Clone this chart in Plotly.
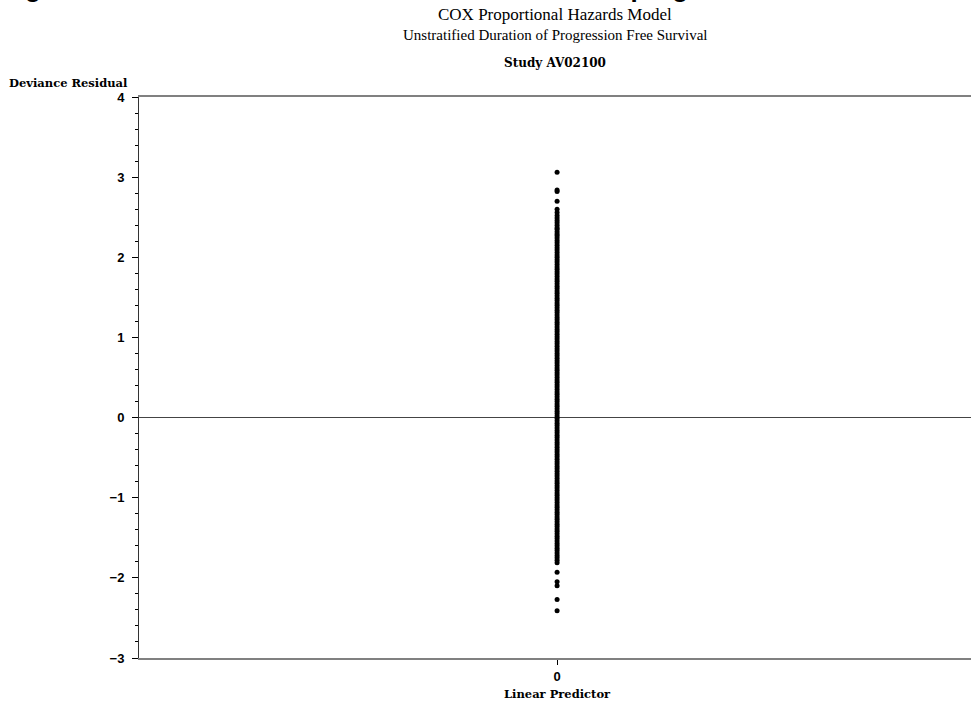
import plotly.graph_objects as go

# Deviance residuals from the unstratified Cox model (no covariates, so every
# subject shares the same linear predictor of 0)
deviance_residual = [
    3.06, 2.84, 2.82, 2.70, 2.60, 2.56, 2.52, 2.49, 2.46, 2.43,
    2.40, 2.37, 2.35, 2.32, 2.29, 2.27, 2.24, 2.21, 2.18, 2.15,
    2.12, 2.09, 2.06, 2.03, 2.00, 1.97, 1.94, 1.91, 1.88, 1.85,
    1.82, 1.79, 1.76, 1.73, 1.70, 1.67, 1.64, 1.61, 1.58, 1.55,
    1.52, 1.49, 1.46, 1.43, 1.40, 1.37, 1.34, 1.31, 1.28, 1.25,
    1.22, 1.19, 1.16, 1.13, 1.10, 1.07, 1.04, 1.01, 0.98, 0.95,
    0.92, 0.89, 0.86, 0.83, 0.80, 0.77, 0.74, 0.71, 0.68, 0.65,
    0.62, 0.59, 0.56, 0.53, 0.50, 0.47, 0.44, 0.41, 0.38, 0.35,
    0.32, 0.29, 0.26, 0.23, 0.20, 0.17, 0.14, 0.11, 0.08, 0.05,
    0.02, -0.01, -0.04, -0.07, -0.10, -0.13, -0.16, -0.19, -0.22, -0.25,
    -0.28, -0.31, -0.34, -0.37, -0.40, -0.43, -0.46, -0.49, -0.52, -0.55,
    -0.58, -0.61, -0.64, -0.67, -0.70, -0.73, -0.76, -0.79, -0.82, -0.85,
    -0.88, -0.91, -0.94, -0.97, -1.00, -1.03, -1.06, -1.09, -1.12, -1.15,
    -1.18, -1.21, -1.24, -1.27, -1.30, -1.33, -1.36, -1.39, -1.42, -1.45,
    -1.48, -1.51, -1.54, -1.57, -1.60, -1.63, -1.66, -1.69, -1.72, -1.75,
    -1.78, -1.81, -1.93, -2.05, -2.10, -2.27, -2.41,
]
linear_predictor = [0.0] * len(deviance_residual)

y_ticks = [-3, -2, -1, 0, 1, 2, 3, 4]
x_ticks = [0]

W, H = 971, 704
L, R, T, B = 139, 0, 97, 46
plot_h = H - T - B
plot_w = W - L - R


def px_x(p):
    return (p - L) / plot_w


def px_y(p):
    return (H - B - p) / plot_h


serif = "Liberation Serif"
serif_bold = "DejaVu Serif"
sans = "Liberation Sans"

fig = go.Figure()
fig.add_trace(go.Scatter(
    x=linear_predictor,
    y=deviance_residual,
    mode="markers",
    marker=dict(size=5, color="black", line=dict(width=0)),
    showlegend=False,
    hoverinfo="y",
))

fig.update_layout(
    width=W, height=H,
    margin=dict(l=L, r=R, t=T, b=B, pad=0),
    paper_bgcolor="white",
    plot_bgcolor="white",
    xaxis=dict(
        range=[-1, 0.99],
        tickvals=x_ticks,
        ticktext=[str(v) for v in x_ticks],
        ticks="outside", ticklen=5, tickwidth=1, tickcolor="black",
        showline=True, linecolor="#808080", linewidth=2, mirror=True,
        showgrid=False, zeroline=False,
        tickfont=dict(family=sans, size=13, color="black", weight="bold"),
    ),
    yaxis=dict(
        range=[-3, 4],
        tickvals=y_ticks,
        ticks="outside", ticklen=6, tickwidth=1, tickcolor="black",
        ticklabelstandoff=5,
        minor=dict(dtick=0.2, ticks="outside", ticklen=3, tickcolor="black", tickwidth=1),
        showline=True, linecolor="#333333", linewidth=1,
        showgrid=False,
        zeroline=True, zerolinecolor="#444444", zerolinewidth=1,
        tickfont=dict(family=sans, size=13, color="black", weight="bold"),
    ),
)

# Page heading, running past the top edge of the page
fig.add_annotation(
    text="<b>Figure 6 Deviance Residuals Plot of Cox Model for progression</b>",
    xref="paper", yref="paper", x=px_x(0), y=px_y(5),
    xanchor="left", yanchor="bottom", showarrow=False,
    font=dict(family=sans, size=26, color="black"),
)

titles = [
    ("COX Proportional Hazards Model", 15, serif, 17, False),
    ("Unstratified Duration of Progression Free Survival", 35, serif, 15, False),
    ("Study AV02100", 63, serif_bold, 12, True),
]
for text, yc, fam, size, bold in titles:
    fig.add_annotation(
        text=f"<b>{text}</b>" if bold else text,
        xref="paper", yref="paper", x=0.5, y=px_y(yc),
        xanchor="center", yanchor="middle", showarrow=False,
        font=dict(family=fam, size=size, color="black"),
    )

fig.add_annotation(
    text="<b>Deviance Residual</b>",
    xref="paper", yref="paper", x=px_x(7), y=px_y(83),
    xanchor="left", yanchor="middle", showarrow=False,
    font=dict(family=serif_bold, size=11.5, color="black"),
)
fig.add_annotation(
    text="<b>Linear Predictor</b>",
    xref="paper", yref="paper", x=px_x(557), y=px_y(694),
    xanchor="center", yanchor="middle", showarrow=False,
    font=dict(family=serif_bold, size=11.5, color="black"),
)

fig.write_html("out.html")
